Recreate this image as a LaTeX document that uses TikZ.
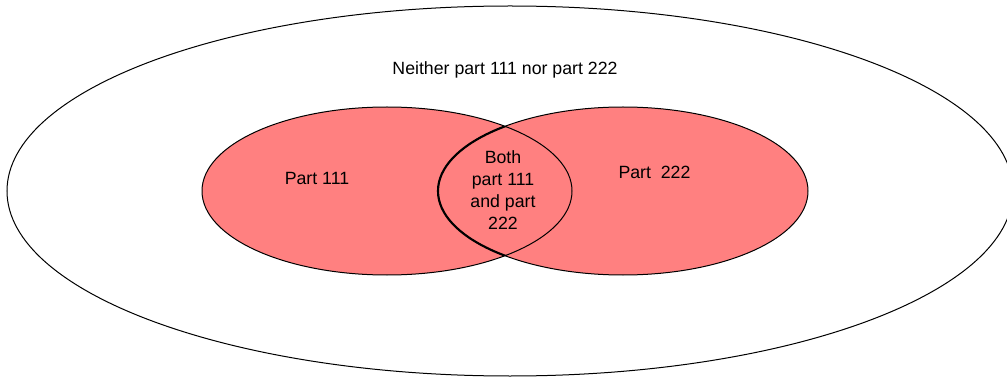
\documentclass[tikz,border=0pt]{standalone}
\usepackage{fontspec}
\setmainfont{Liberation Sans}
\usepackage{xcolor}
\usepackage{tikz}
\usetikzlibrary{shapes.geometric}
\definecolor{rose}{HTML}{FF8080}

\tikzset{
  ensemble/.style={ellipse, draw=black, line width=0.75pt, inner sep=0pt},
  etiquette/.style={font=\fontsize{13.3}{16.5}\selectfont, inner sep=0pt, color=black}
}

\begin{document}
\begin{tikzpicture}[x=0.75pt, y=-0.75pt]
    \useasboundingbox (0,0) rectangle (1007,381);
    % Univers
    \node[ensemble, minimum width=754.5pt, minimum height=277.5pt] (univers) at (510,191) {};
    % Ensembles
    \node[ensemble, draw=none, fill=rose, minimum width=277.5pt, minimum height=126pt] (fondA) at (387,191) {};
    \node[ensemble, draw=none, fill=rose, minimum width=277.5pt, minimum height=126pt] (fondB) at (623,191) {};
    \node[ensemble, minimum width=277.5pt, minimum height=126pt] (partA) at (387,191) {};
    \node[ensemble, minimum width=277.5pt, minimum height=126pt] (partB) at (623,191) {};
    % Bord gauche de l'intersection
    \begin{scope}
      \clip (387,191) ellipse [x radius=185, y radius=84];
      \draw[line width=1.6pt] (623,191) ellipse [x radius=185, y radius=84];
    \end{scope}
    % Textes
    \node[etiquette, anchor=base] (ni) at (505,75) {Neither part 111 nor part 222};
    \node[etiquette, anchor=base] (labA) at (317,185) {Part 111};
    \node[etiquette, anchor=base] (labB) at (654.5,179) {Part\ \ 222};
    \node[etiquette, anchor=north, align=center] (both) at (503,150) {Both\\part 111\\and part\\222};
\end{tikzpicture}
\end{document}
